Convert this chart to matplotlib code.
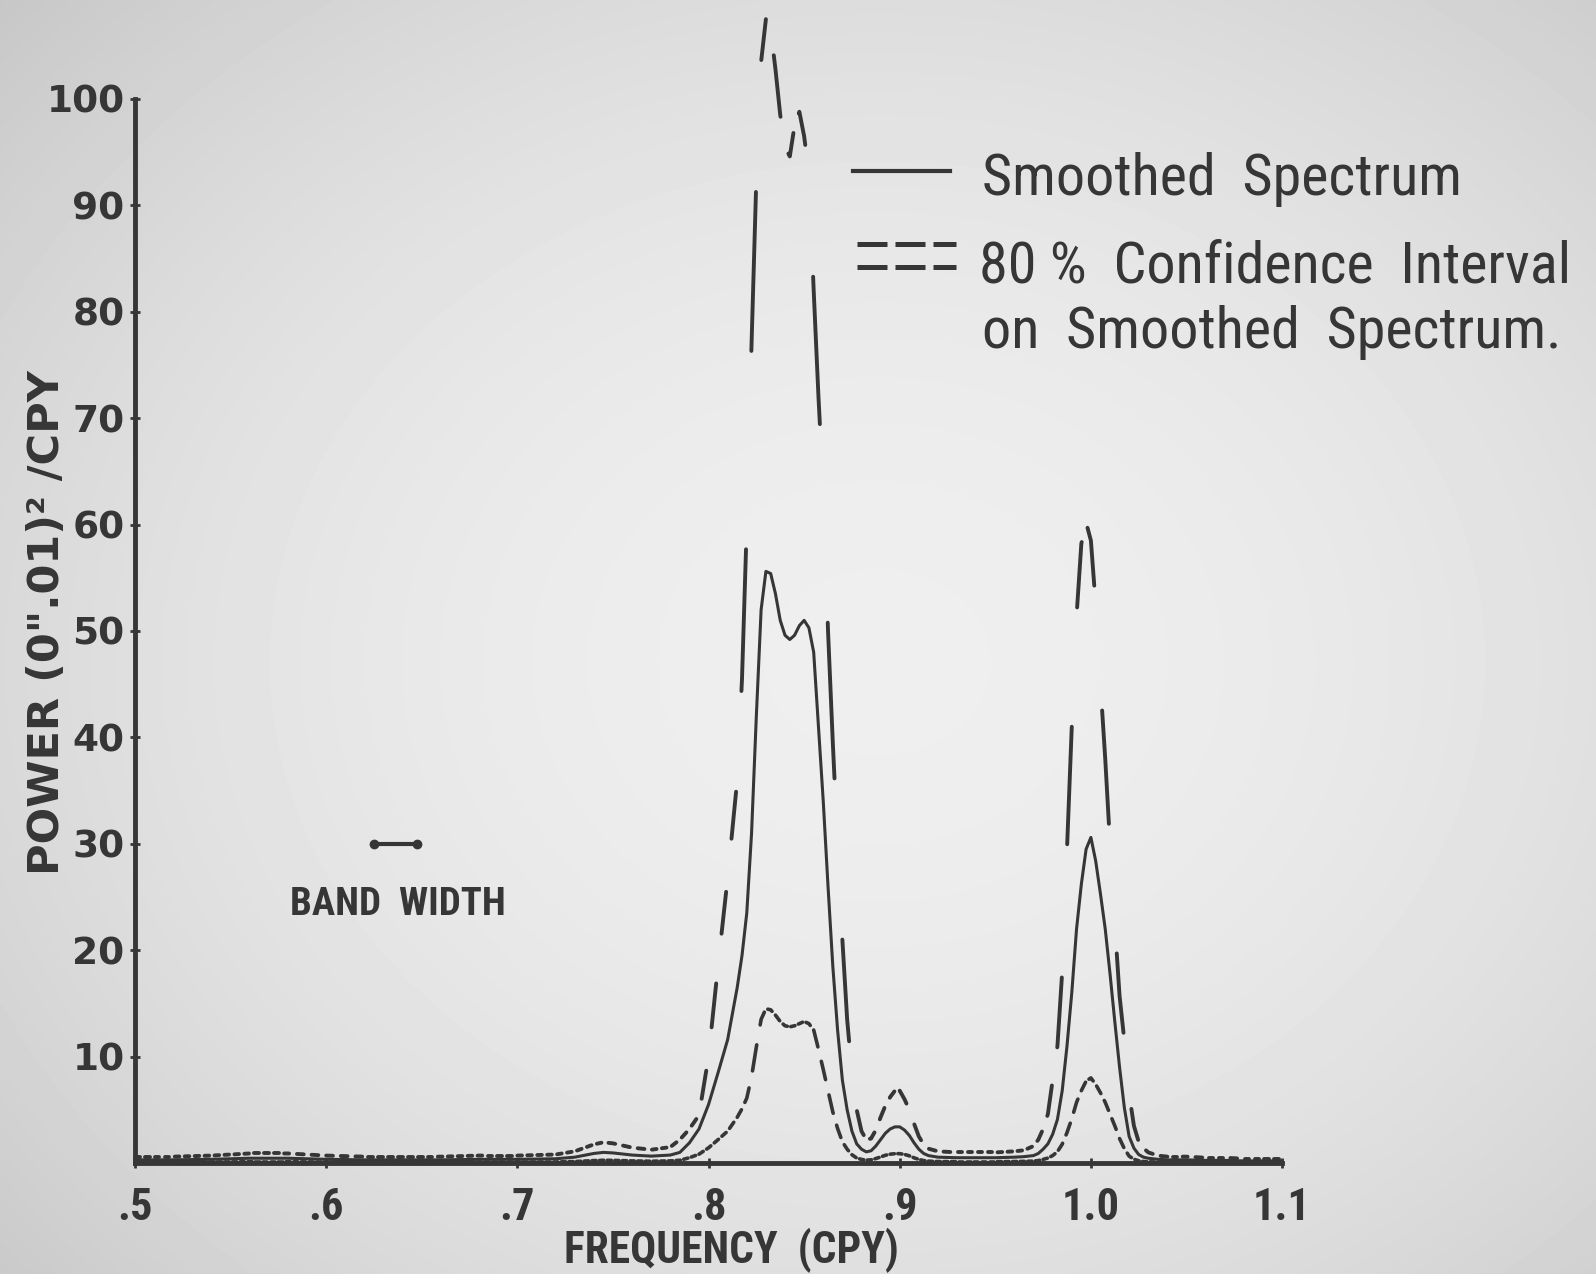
import numpy as np
import matplotlib
matplotlib.use('Agg')
import matplotlib.pyplot as plt
from matplotlib import font_manager
from matplotlib.collections import LineCollection
from matplotlib.lines import Line2D

# values
freq = [0.50, 0.52, 0.54, 0.56, 0.58, 0.60, 0.62, 0.64, 0.66, 0.68, 0.70, 0.72,
        0.73, 0.74, 0.745, 0.75, 0.76, 0.77, 0.78, 0.785, 0.79, 0.795, 0.80,
        0.805, 0.81, 0.815, 0.8175, 0.82, 0.8225, 0.825, 0.8275, 0.83, 0.8325,
        0.835, 0.8375, 0.84, 0.8425, 0.845, 0.8475, 0.85, 0.8525, 0.855, 0.8575,
        0.86, 0.8625, 0.865, 0.8675, 0.87, 0.8725, 0.875, 0.8775, 0.88, 0.8825,
        0.885, 0.8875, 0.89, 0.8925, 0.895, 0.8975, 0.90, 0.9025, 0.905, 0.9075,
        0.91, 0.9125, 0.915, 0.92, 0.93, 0.94, 0.95, 0.96, 0.965, 0.97, 0.9725,
        0.975, 0.9775, 0.98, 0.9825, 0.985, 0.9875, 0.99, 0.9925, 0.995, 0.9975,
        1.00, 1.0025, 1.005, 1.0075, 1.01, 1.0125, 1.015, 1.0175, 1.02, 1.0225,
        1.025, 1.0275, 1.03, 1.035, 1.04, 1.05, 1.06, 1.07, 1.08, 1.09, 1.10]

smoothed = [0.3, 0.3, 0.35, 0.45, 0.45, 0.35, 0.3, 0.3, 0.3, 0.35, 0.35, 0.4,
            0.55, 0.9, 1.0, 0.95, 0.75, 0.65, 0.75, 1.0, 1.9, 3.2, 5.5,
            8.5, 11.6, 16.5, 19.5, 23.5, 31.0, 42.0, 52.0, 55.6, 55.4,
            53.5, 51.0, 49.6, 49.2, 49.6, 50.5, 51.0, 50.3, 48.0, 41.0,
            34.0, 26.0, 18.5, 12.5, 7.8, 5.0, 3.0, 1.8, 1.3, 1.05,
            1.15, 1.6, 2.2, 2.8, 3.2, 3.4, 3.4, 3.1, 2.6, 1.9,
            1.3, 0.9, 0.7, 0.55, 0.5, 0.5, 0.5, 0.55, 0.6, 0.7, 0.9,
            1.3, 1.8, 2.7, 4.1, 6.8, 11.0, 16.0, 22.0, 26.2, 29.5,
            30.6, 28.4, 25.3, 22.0, 17.8, 13.3, 9.0, 5.2, 2.5, 1.4,
            0.8, 0.55, 0.45, 0.35, 0.3, 0.3, 0.25, 0.25, 0.2, 0.2, 0.2]

ci_upper = [0.6, 0.6, 0.7, 0.9, 0.9, 0.7, 0.6, 0.6, 0.6, 0.7, 0.7, 0.8,
            1.1, 1.75, 1.95, 1.85, 1.45, 1.25, 1.5, 2.2, 3.2, 4.5, 10.0,
            18.6, 26.8, 36.0, 45.5, 60.0, 77.0, 92.5, 103.5, 107.5, 106.5,
            102.8, 98.5, 95.5, 94.6, 97.5, 98.8, 96.5, 93.0, 82.0, 72.0,
            63.3, 50.0, 39.5, 30.0, 21.0, 13.5, 8.5, 5.0, 3.0, 2.2,
            2.3, 3.1, 4.3, 5.4, 6.2, 6.8, 6.8, 6.0, 5.0, 3.7,
            2.5, 1.75, 1.35, 1.1, 1.0, 1.0, 1.0, 1.1, 1.2, 1.6, 2.2,
            3.2, 4.6, 7.8, 11.0, 18.0, 29.5, 41.0, 51.4, 58.2, 60.2,
            58.5, 52.5, 45.0, 38.0, 30.0, 22.5, 15.7, 11.5, 6.5, 3.5,
            2.0, 1.4, 1.0, 0.7, 0.6, 0.6, 0.5, 0.5, 0.4, 0.4, 0.4]

ci_lower = [0.08, 0.08, 0.09, 0.12, 0.12, 0.09, 0.08, 0.08, 0.08, 0.09, 0.09, 0.1,
            0.14, 0.23, 0.26, 0.25, 0.2, 0.17, 0.2, 0.26, 0.5, 0.83, 1.43,
            2.2, 3.0, 4.3, 5.1, 6.1, 8.1, 10.9, 13.5, 14.5, 14.4,
            13.9, 13.3, 12.9, 12.8, 12.9, 13.1, 13.3, 13.1, 12.5, 10.7,
            8.8, 6.8, 4.8, 3.25, 2.0, 1.3, 0.78, 0.47, 0.34, 0.27,
            0.3, 0.42, 0.57, 0.73, 0.83, 0.88, 0.88, 0.81, 0.68, 0.49,
            0.34, 0.23, 0.18, 0.14, 0.13, 0.13, 0.13, 0.14, 0.16, 0.18, 0.23,
            0.34, 0.47, 0.7, 1.07, 1.77, 2.86, 4.16, 5.7, 6.8, 7.7,
            8.0, 7.4, 6.6, 5.7, 4.6, 3.5, 2.3, 1.35, 0.65, 0.36,
            0.21, 0.14, 0.12, 0.09, 0.08, 0.08, 0.07, 0.07, 0.05, 0.05, 0.05]

x_ticks = [0.5, 0.6, 0.7, 0.8, 0.9, 1.0, 1.1]
x_tick_labels = ['.5', '.6', '.7', '.8', '.9', '1.0', '1.1']
y_ticks = [10, 20, 30, 40, 50, 60, 70, 80, 90, 100]
band_x = [0.625, 0.6475]
band_y = [30, 30]

# pick the narrowest sans available for the lettering
narrow, stretch = 'Roboto', 'normal'
for f in font_manager.fontManager.ttflist:
    if f.name in ('Liberation Sans Narrow', 'Roboto Condensed', 'Open Sans Condensed'):
        narrow, stretch = f.name, 'normal'
        break
    if f.name == 'DejaVu Sans' and f.stretch == 'condensed':
        narrow, stretch = 'DejaVu Sans', 'condensed'

ink = '#363636'


def xdashed(ax, x, y, on, off, start=None, fall=1.0, **kw):
    # plotter-style dashes: the pen switches on x steps, not along the path;
    # on falling stretches the plotter stepped slower (fall < 1)
    x = np.asarray(x, float)
    y = np.asarray(y, float)
    w = np.where(np.diff(y) < 0, fall, 1.0)
    u = np.concatenate([[0.0], np.cumsum(np.diff(x) * w)])
    period = on + off
    u0 = np.interp(start, x, u) if start is not None else 0.0
    ks = np.arange(np.floor((u[0] - u0) / period) - 1, (u[-1] - u0) / period + 1)
    bu = np.concatenate([u0 + ks * period, u0 + ks * period + on])
    bu = bu[(bu > u[0]) & (bu < u[-1])]
    cuts = np.union1d(x, np.interp(bu, u, x))
    yc = np.interp(cuts, x, y)
    um = np.interp((cuts[:-1] + cuts[1:]) / 2, x, u)
    keep = ((um - u0) % period) < on
    lines, cur = [], []
    for i in range(len(um)):
        if keep[i]:
            if not cur:
                cur.append((cuts[i], yc[i]))
            cur.append((cuts[i + 1], yc[i + 1]))
        elif cur:
            lines.append(cur)
            cur = []
    if cur:
        lines.append(cur)
    lc = LineCollection(lines, capstyle='round', joinstyle='round', **kw)
    lc.set_clip_on(False)
    ax.add_collection(lc)


fig = plt.figure(figsize=(15.96, 12.74), dpi=100)

# paper background with darker corners
bg = fig.add_axes([0, 0, 1, 1], zorder=-5)
yy, xx = np.mgrid[0:1:300j, 0:1:380j]
r2 = ((xx - 0.55) / 0.6) ** 2 + ((yy - 0.52) / 0.62) ** 2
bg.imshow(0.935 - 0.1 * r2, cmap='gray', vmin=0, vmax=1, aspect='auto',
          extent=[0, 1, 0, 1], interpolation='bilinear')
bg.axis('off')

ax = fig.add_axes([0.0846, 0.0871, 0.7187, 0.9129])
ax.patch.set_alpha(0)

ax.plot(freq, smoothed, color=ink, lw=2.2, clip_on=False)
xdashed(ax, freq, ci_upper, 0.0024, 0.0028, start=0.7964, fall=0.68,
        colors=ink, linewidths=2.8)
xdashed(ax, freq, ci_lower, 0.0022, 0.0018, start=0.7950,
        colors=ink, linewidths=2.6)

# band width marker
ax.plot(band_x, band_y, color=ink, lw=3, marker='o', ms=6)
t_band = fig.text(0.2494, 0.2904, 'BAND  WIDTH', family=narrow, stretch=stretch,
                  weight='bold', fontsize=28, color=ink, ha='center', va='center')

ax.set_xlim(0.5, 1.1)
ax.set_ylim(0, 109.3)
for s in ['top', 'right']:
    ax.spines[s].set_visible(False)
ax.spines['left'].set_bounds(0, 100)
ax.spines['bottom'].set_bounds(0.5, 1.1)
for s in ['left', 'bottom']:
    ax.spines[s].set_linewidth(3.5)
    ax.spines[s].set_color(ink)

ax.set_xticks(x_ticks)
ax.set_xticklabels(x_tick_labels, fontsize=32, color=ink, family=narrow,
                   stretch=stretch, weight='bold')
ax.set_yticks(y_ticks)
ax.set_yticklabels([str(v) for v in y_ticks], fontsize=27, weight='bold', color=ink)
ax.tick_params(axis='both', direction='inout', length=7, width=2, color=ink)
ax.tick_params(axis='x', pad=14)
ax.tick_params(axis='y', pad=4)

t_xlab = fig.text(0.458, 0.0188, 'FREQUENCY  (CPY)', family=narrow, stretch=stretch,
                  weight='bold', fontsize=32, color=ink, ha='center', va='center')
fig.text(0.0294, 0.511, 'POWER (0".01)\u00b2 /CPY', weight='bold',
         fontsize=31, color=ink, ha='center', va='center', rotation=90)

# legend drawn by hand, as on the original
fig.add_artist(Line2D([0.5345, 0.5952], [0.8658, 0.8658], transform=fig.transFigure,
                      color=ink, lw=3))
for yrow in [0.8085, 0.7904]:
    fig.add_artist(Line2D([0.537, 0.599], [yrow, yrow], transform=fig.transFigure,
                          color=ink, lw=3.6, dashes=(6, 1.6)))
legend_lines = [
    (0.6153, 0.8469, 'Smoothed  Spectrum', 484),
    (0.6134, 0.7786, '80 %  Confidence  Interval', 612),
    (0.6153, 0.7268, 'on  Smoothed  Spectrum.', 580),
]
leg_texts = []
for lx, ly, txt, wpx in legend_lines:
    t = fig.text(lx, ly, txt, family=narrow, stretch=stretch, fontsize=43,
                 color=ink, va='baseline')
    leg_texts.append((t, wpx))

# shrink lettering to the widths measured on the original
fig.canvas.draw()
r = fig.canvas.get_renderer()
scale = min(w / t.get_window_extent(renderer=r).width for t, w in leg_texts)
if scale < 1:
    for t, w in leg_texts:
        t.set_fontsize(43 * scale)
for t, w in [(t_band, 222), (t_xlab, 336)]:
    cur = t.get_window_extent(renderer=r).width
    if cur > w:
        t.set_fontsize(t.get_fontsize() * w / cur)

fig.savefig('out.png', dpi=100)
